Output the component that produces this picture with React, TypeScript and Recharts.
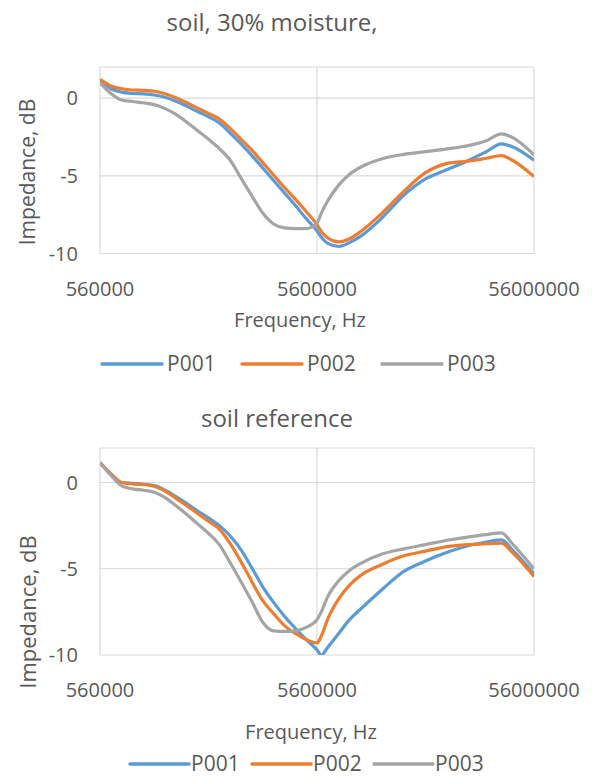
// Impedance vs frequency, two Excel-style panels (30% moisture soil and reference soil).
import { CartesianGrid, Line, LineChart, XAxis, YAxis } from 'recharts';

const freqs = [
  560000, 628300, 705000, 791000, 887500, 995800, 1117300, 1253700, 1406700, 1578300,
  1770900, 1987000, 2229400, 2501400, 2806600, 3149100, 3533400, 3964500, 4448200, 4991000,
  5600000, 5864000, 6283000, 7050000, 7910000, 8875000, 11173000, 14067000, 17709000, 22294000,
  28066000, 33743000, 39645000, 44482000, 56000000,
];

// soil, 30% moisture
const moistP001 = [
  1.15, 0.6, 0.38, 0.3, 0.27, 0.2, 0.05, -0.2, -0.52, -0.87,
  -1.2, -1.6, -2.25, -2.95, -3.7, -4.5, -5.3, -6.1, -6.9, -7.75,
  -8.55, -8.95, -9.35, -9.55, -9.3, -8.9, -7.7, -6.25, -5.2, -4.6,
  -4.0, -3.45, -2.95, -3.13, -4.0,
];
const moistP002 = [
  1.2, 0.78, 0.6, 0.52, 0.5, 0.44, 0.28, 0.02, -0.3, -0.65,
  -0.98, -1.35, -1.95, -2.65, -3.35, -4.15, -4.95, -5.75, -6.5, -7.3,
  -8.15, -8.6, -9.0, -9.25, -9.05, -8.6, -7.4, -6.0, -4.8, -4.2,
  -4.05, -3.87, -3.7, -4.0, -5.05,
];
const moistP003 = [
  1.0, 0.3, -0.12, -0.22, -0.3, -0.42, -0.68, -1.05, -1.55, -2.1,
  -2.65, -3.25, -4.0, -5.15, -6.3, -7.4, -8.1, -8.35, -8.4, -8.4,
  -8.05, -7.4, -6.6, -5.6, -4.9, -4.45, -3.9, -3.62, -3.45, -3.27,
  -3.05, -2.75, -2.3, -2.53, -3.65,
];

// soil reference
const refP001 = [
  1.15, 0.5, 0.0, -0.05, -0.1, -0.18, -0.45, -0.82, -1.22, -1.65,
  -2.05, -2.5, -3.1, -3.9, -4.95, -6.05, -6.95, -7.75, -8.45, -9.1,
  -9.7, -10.0, -9.55, -8.75, -7.95, -7.35, -6.2, -5.15, -4.55, -4.05,
  -3.65, -3.45, -3.33, -3.9, -5.3,
];
const refP002 = [
  1.15, 0.5, 0.0, -0.08, -0.12, -0.22, -0.5, -0.92, -1.35, -1.8,
  -2.25, -2.7, -3.55, -4.6, -5.75, -6.85, -7.6, -8.3, -8.75, -9.1,
  -9.3, -8.9, -7.9, -6.75, -5.95, -5.4, -4.75, -4.25, -3.98, -3.72,
  -3.6, -3.55, -3.52, -4.05, -5.45,
];
const refP003 = [
  1.15, 0.42, -0.2, -0.37, -0.45, -0.57, -0.88, -1.35, -1.85, -2.4,
  -2.95, -3.6, -4.65, -5.75, -6.9, -8.1, -8.6, -8.63, -8.6, -8.4,
  -7.95, -7.5, -6.6, -5.7, -5.1, -4.7, -4.15, -3.85, -3.6, -3.35,
  -3.15, -3.02, -2.92, -3.55, -5.0,
];

const xTicks = [560000, 5600000, 56000000];
const yTicks = [-10, -5, 0];
const seriesNames = ['P001', 'P002', 'P003'];
const colors = ['#5B9BD5', '#ED7D31', '#A5A5A5'];

const FONT = '"Open Sans", "Noto Sans", sans-serif';
const TEXT = '#595959';

function rows(a: number[], b: number[], c: number[]) {
  return freqs.map((f, i) => ({ f, P001: a[i], P002: b[i], P003: c[i] }));
}

function Panel({ top, height, marginTop, marginBottom, data }: { top: number; height: number; marginTop: number; marginBottom: number; data: any[] }) {
  return (
    <div style={{ position: 'absolute', left: 0, top }}>
      <LineChart
        width={592}
        height={height}
        data={data}
        margin={{ top: marginTop, right: 58, left: 40, bottom: marginBottom }}
      >
        <CartesianGrid stroke="#d9d9d9" strokeWidth={1.2} />
        <XAxis
          dataKey="f"
          type="number"
          scale="log"
          domain={[560000, 56000000]}
          ticks={xTicks}
          allowDataOverflow
          axisLine={false}
          tickLine={false}
          tickSize={0}
          tickMargin={28}
          height={50}
          tick={{ fontSize: 20, fill: TEXT, fontFamily: FONT }}
        />
        <YAxis
          type="number"
          domain={[-10, 2]}
          ticks={yTicks}
          allowDataOverflow
          axisLine={false}
          tickLine={false}
          tickSize={0}
          tickMargin={22}
          width={60}
          tick={{ fontSize: 20, fill: TEXT, fontFamily: FONT }}
        />
        {seriesNames.map((s, i) => (
          <Line
            key={s}
            type="monotone"
            dataKey={s}
            stroke={colors[i]}
            strokeWidth={3.2}
            dot={false}
            isAnimationActive={false}
          />
        ))}
      </LineChart>
    </div>
  );
}

function LegendRow({ y, x0, lineLen, textGap, itemGap }: { y: number; x0: number; lineLen: number; textGap: number; itemGap: number }) {
  const itemW = lineLen + textGap + 46 + itemGap;
  return (
    <g>
      {seriesNames.map((s, i) => {
        const x = x0 + i * itemW;
        return (
          <g key={s}>
            <line x1={x} x2={x + lineLen} y1={y - 7} y2={y - 7} stroke={colors[i]} strokeWidth={3.5} strokeLinecap="round" />
            <text x={x + lineLen + textGap} y={y} fontSize={21}>{s}</text>
          </g>
        );
      })}
    </g>
  );
}

export default function App() {
  return (
    <div style={{ position: 'absolute', left: 0, top: 0, width: 592, height: 776, background: '#fff', fontFamily: FONT }}>
      <Panel top={0} height={310} marginTop={67} marginBottom={6.5} data={rows(moistP001, moistP002, moistP003)} />
      <Panel top={380} height={330} marginTop={68} marginBottom={5} data={rows(refP001, refP002, refP003)} />
      <svg width={592} height={776} style={{ position: 'absolute', left: 0, top: 0, pointerEvents: 'none' }} fill={TEXT} fontFamily={FONT}>
        <text x={272} y={31} fontSize={24} textAnchor="middle">soil, 30% moisture,</text>
        <text x={277} y={427} fontSize={24} textAnchor="middle">soil reference</text>
        <text x={27} y={172} fontSize={21} textAnchor="middle" dominantBaseline="central" transform="rotate(-90 27 172)">Impedance, dB</text>
        <text x={27} y={612} fontSize={22} textAnchor="middle" dominantBaseline="central" transform="rotate(-90 27 612)">Impedance, dB</text>
        <text x={300} y={327} fontSize={20} textAnchor="middle">Frequency, Hz</text>
        <text x={311} y={739} fontSize={20} textAnchor="middle">Frequency, Hz</text>
        <LegendRow y={371} x0={102} lineLen={60} textGap={5} itemGap={29} />
        <LegendRow y={771} x0={130} lineLen={59} textGap={2} itemGap={15} />
      </svg>
    </div>
  );
}
